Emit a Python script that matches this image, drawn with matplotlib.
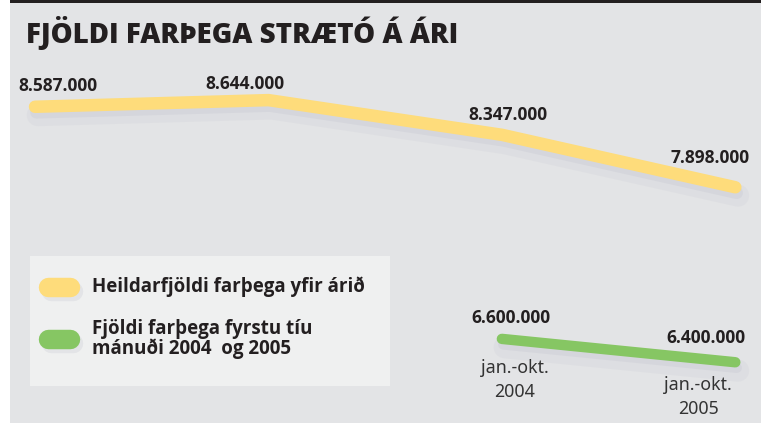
import matplotlib
matplotlib.use("Agg")
import matplotlib.pyplot as plt
import matplotlib.patheffects as pe
from matplotlib.patches import Rectangle
from matplotlib.lines import Line2D

# Gögn
title = 'FJÖLDI FARÞEGA STRÆTÓ Á ÁRI'
years = [2002, 2003, 2004, 2005]
total = [8587000, 8644000, 8347000, 7898000]
total_labels = ['8.587.000', '8.644.000', '8.347.000', '7.898.000']
total_name = 'Heildarfjöldi farþega yfir árið'

part_years = [2004, 2005]
part = [6600000, 6400000]
part_labels = ['6.600.000', '6.400.000']
part_ticks = ['jan.-okt.\n2004', 'jan.-okt.\n2005']
part_name = 'Fjöldi farþega fyrstu tíu\nmánuði 2004  og 2005'

W, H = 761, 423
yellow = '#fedc7b'
green = '#86c663'
bg = '#e3e4e6'
panel = '#eff0f0'
dark = '#231f20'
font = 'Open Sans'
font2 = 'Noto Sans'


def fx(px):
    return px / W


def fy(py):
    return 1 - py / H


fig = plt.figure(figsize=(W / 100, H / 100), dpi=100)
fig.patch.set_facecolor('white')

# bakgrunnur, efri lína
fig.patches.append(Rectangle((fx(10), 0), 1 - fx(10), 1, transform=fig.transFigure,
                             facecolor=bg, edgecolor='none', zorder=-2))
fig.patches.append(Rectangle((fx(10), fy(3)), 1 - fx(10), fy(0) - fy(3), transform=fig.transFigure,
                             facecolor=dark, edgecolor='none', zorder=-1))
# reitur fyrir skýringar
fig.patches.append(Rectangle((fx(30), fy(386)), fx(390) - fx(30), fy(256) - fy(386),
                             transform=fig.transFigure, facecolor=panel, edgecolor='none', zorder=-1))

ax = fig.add_axes([0, 0, 1, 1])
ax.set_zorder(2)
ax.set_facecolor('none')
ax.set_xlim(2001.85, 2005.11)
ax.set_ylim(5.880e6, 9.501e6)
ax.axis('off')

# mjúkur skuggi undir línunum
shadow = [pe.SimpleLineShadow(offset=(2, -6), shadow_color='#a0a0b4', alpha=0.08,
                              linewidth=16),
          pe.SimpleLineShadow(offset=(1, -4), shadow_color='#a0a0b4', alpha=0.12),
          pe.Normal()]

ax.plot(years, total, color=yellow, lw=9, solid_capstyle='round',
        solid_joinstyle='round', path_effects=shadow, zorder=3)
ax.plot(part_years, part, color=green, lw=7.5, solid_capstyle='round',
        solid_joinstyle='round', path_effects=shadow, zorder=3)

lab_kw = dict(textcoords='offset pixels', ha='center', va='center',
              fontsize=12.5, fontweight='bold', color=dark, family=font)
total_off = [(23, 21), (-24, 16), (6, 20), (-25, 29)]
for x, v, s, off in zip(years, total, total_labels, total_off):
    ax.annotate(s, (x, v), xytext=off, **lab_kw)

part_off = [(9, 21), (-29, 24)]
for x, v, s, off in zip(part_years, part, part_labels, part_off):
    ax.annotate(s, (x, v), xytext=off, **lab_kw)

tick_off = [(13, -41), (-37, -35)]
for x, v, s, off in zip(part_years, part, part_ticks, tick_off):
    ax.annotate(s, (x, v), xytext=off, textcoords='offset pixels', ha='center',
                va='center', fontsize=12.8, color='#333333', family=font2,
                linespacing=1.45)

# titill
fig.text(fx(26), fy(33), title, ha='left', va='center', fontsize=20,
         fontweight='heavy', color=dark, family=font)

# skýringar
shadow_small = [pe.SimpleLineShadow(offset=(2, -3), shadow_color='#a0a0b4', alpha=0.15),
                pe.Normal()]
for py, col, name in [(287, yellow, total_name), (339, green, part_name)]:
    fig.lines.append(Line2D([fx(48), fx(70)], [fy(py), fy(py)], transform=fig.transFigure,
                            color=col, lw=14, solid_capstyle='round',
                            path_effects=shadow_small, zorder=3))
    fig.text(fx(92), fy(py), name, ha='left', va='center', fontsize=13.5,
             fontweight='bold', color=dark, family=font, linespacing=1.0)

fig.savefig('out.png', dpi=100)
